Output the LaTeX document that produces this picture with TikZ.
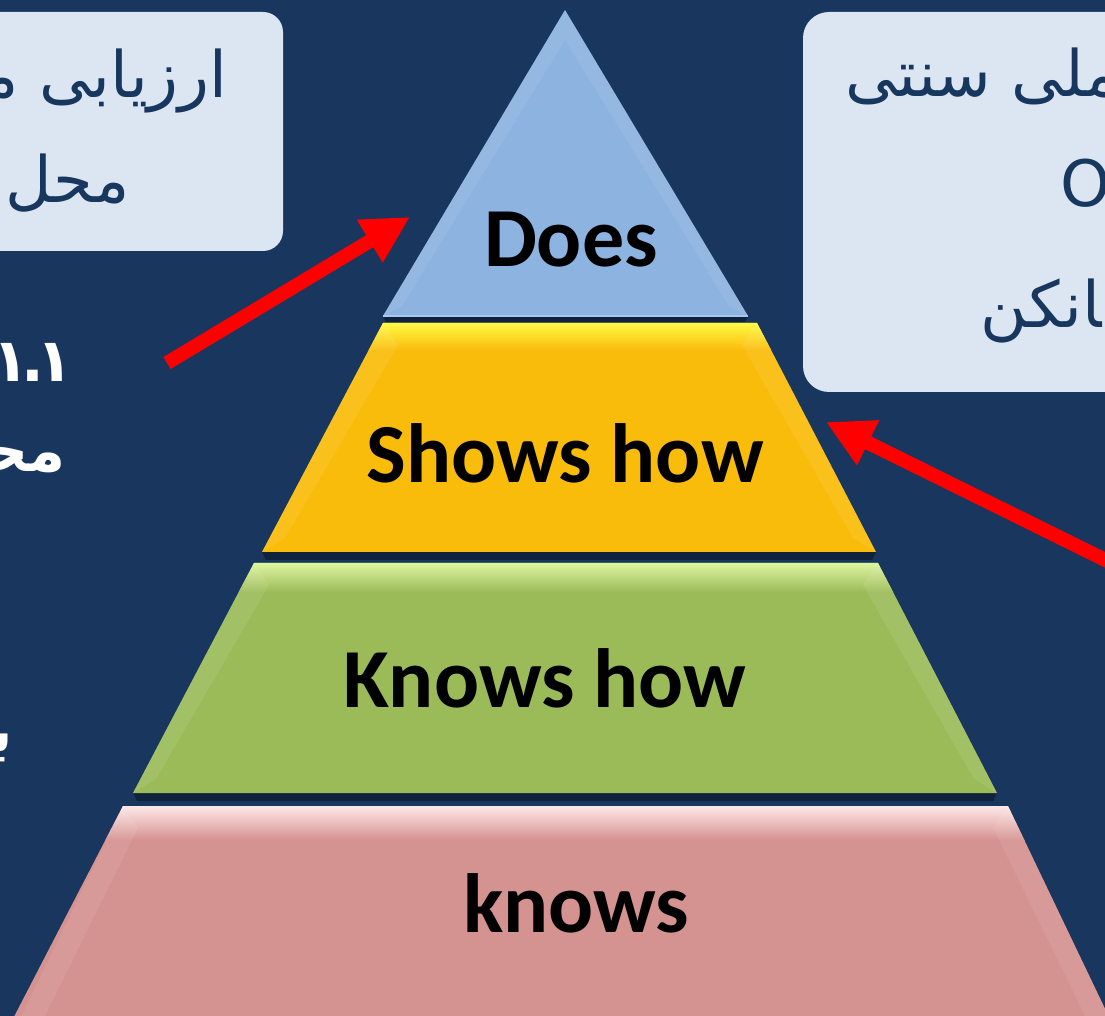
\documentclass[tikz,border=0pt]{standalone}
\usepackage{fontspec}
\usetikzlibrary{arrows.meta}
\TeXXeTstate=1
\newfontfamily\arabicfont[Script=Arabic]{DejaVu Sans}
\newfontfamily\latfont{Carlito}
\definecolor{bg}{RGB}{24,54,94}
\definecolor{boxfill}{RGB}{220,230,242}
\definecolor{boxtxt}{RGB}{23,55,94}
\definecolor{bmain}{RGB}{141,179,224}
\definecolor{bhi}{RGB}{166,200,238}
\definecolor{ymain}{RGB}{250,188,10}
\definecolor{yhi}{RGB}{255,250,70}
\definecolor{gmain}{RGB}{155,187,89}
\definecolor{ghi}{RGB}{222,245,160}
\definecolor{pmain}{RGB}{212,146,144}
\definecolor{phi}{RGB}{255,232,232}
\definecolor{arrred}{RGB}{255,0,0}
\begin{document}
\begin{tikzpicture}[x=0.5pt,y=-0.5pt,
  lab/.style={font=\latfont\bfseries\fontsize{42}{50}\selectfont, text=black, inner sep=0pt},
  boxtext/.style={font=\arabicfont\fontsize{32}{38}\selectfont, text=boxtxt, inner sep=0pt},
  whitetext/.style={font=\arabicfont\bfseries\fontsize{30}{36}\selectfont, text=white, inner sep=0pt},
  infobox/.style={fill=boxfill, draw=none},
  redarrow/.style={draw=arrred, line width=7pt, -{Triangle[length=23.5pt,width=23.5pt]}},
  facet/.style={fill=white, fill opacity=0.08, draw=none},
  shadowband/.style={fill=black, fill opacity=0.35, draw=none}]
\useasboundingbox (0,0) rectangle (1105,1016);
\clip (0,0) rectangle (1105,1016);
\fill[bg] (0,0) rectangle (1105,1016);

% info boxes
\fill[infobox, rounded corners=10pt] (-40,12) rectangle (283,251);
\fill[infobox, rounded corners=13pt] (803,12) rectangle (1160,392);

% ---- Does (triangle)
\fill[shadowband] (383,316) -- (748,316) -- (745,322) -- (386,322) -- cycle;
\fill[bmain] (565,10) -- (748,316) -- (383,316) -- cycle;
\fill[facet] (565,10) -- (383,316) -- (402,306) -- (565,40) -- cycle;
\fill[facet] (565,10) -- (748,316) -- (729,306) -- (565,40) -- cycle;
\draw[bhi, line width=1pt] (383,316) -- (748,316);

% ---- Shows how
\fill[shadowband] (262,552) -- (876,552) -- (872,560) -- (266,560) -- cycle;
\fill[ymain] (383,323) -- (757,323) -- (876,552) -- (262,552) -- cycle;
\begin{scope}
\clip (383,323) -- (757,323) -- (876,552) -- (262,552) -- cycle;
\shade[top color=yhi, bottom color=ymain] (250,323) rectangle (890,350);
\end{scope}
\fill[facet] (383,323) -- (262,552) -- (285,538) -- (398,345) -- cycle;
\fill[facet] (757,323) -- (876,552) -- (853,538) -- (742,345) -- cycle;

% ---- Knows how
\fill[shadowband] (133,793) -- (997,793) -- (993,801) -- (137,801) -- cycle;
\fill[gmain] (254,563) -- (878,563) -- (997,793) -- (133,793) -- cycle;
\begin{scope}
\clip (254,563) -- (878,563) -- (997,793) -- (133,793) -- cycle;
\shade[top color=ghi, bottom color=gmain] (120,563) rectangle (1010,592);
\end{scope}
\fill[facet] (254,563) -- (133,793) -- (156,779) -- (269,585) -- cycle;
\fill[facet] (878,563) -- (997,793) -- (974,779) -- (863,585) -- cycle;

% ---- knows
\fill[pmain] (123,806) -- (1008,806) -- (1120,1040) -- (2,1040) -- cycle;
\begin{scope}
\clip (123,806) -- (1008,806) -- (1120,1040) -- (2,1040) -- cycle;
\shade[top color=phi, bottom color=pmain] (0,806) rectangle (1105,840);
\end{scope}
\fill[facet] (123,806) -- (10,1040) -- (33,1040) -- (138,828) -- cycle;
\fill[facet] (1008,806) -- (1120,1040) -- (1097,1040) -- (993,828) -- cycle;

% labels
\node[lab, anchor=base] (does) at (571,267) {Does};
\node[lab, anchor=base] (shows) at (565,483) {Shows how};
\node[lab, anchor=base] (knowshow) at (545,707) {Knows how};
\node[lab, anchor=base] (knows) at (576,932) {knows};

% box texts
\node[boxtext, anchor=base east] (l1) at (228,98) {\beginR ارزیابی م^^^^200d\endR};
\node[boxtext, anchor=base east] (l2) at (130,203) {\beginR محل\endR};
\node[boxtext, anchor=base west] (r1) at (845,97) {\beginR ^^^^200dملی سنتی\endR};
\node[boxtext, anchor=base west] (r2) at (1060,207) {O};
\node[boxtext, anchor=base west] (r3) at (980,328) {\beginR ^^^^200dانکن\endR};

% white side text
\node[whitetext, anchor=base east] (w1) at (73,382) {۱\kern-4pt.\kern-4pt۱};
\node[whitetext, anchor=base east] (w2) at (66,472) {\beginR مح^^^^200d\endR};
\node[whitetext, anchor=base east] (w3) at (13,752) {\beginR ب^^^^200d\endR};

% arrows
\coordinate (la0) at (167,363);
\coordinate (la1) at (410,217);
\coordinate (ra0) at (1160,587);
\coordinate (ra1) at (826,422);
\draw[redarrow] (la0) -- (la1);
\draw[redarrow] (ra0) -- (ra1);
\end{tikzpicture}
\end{document}
